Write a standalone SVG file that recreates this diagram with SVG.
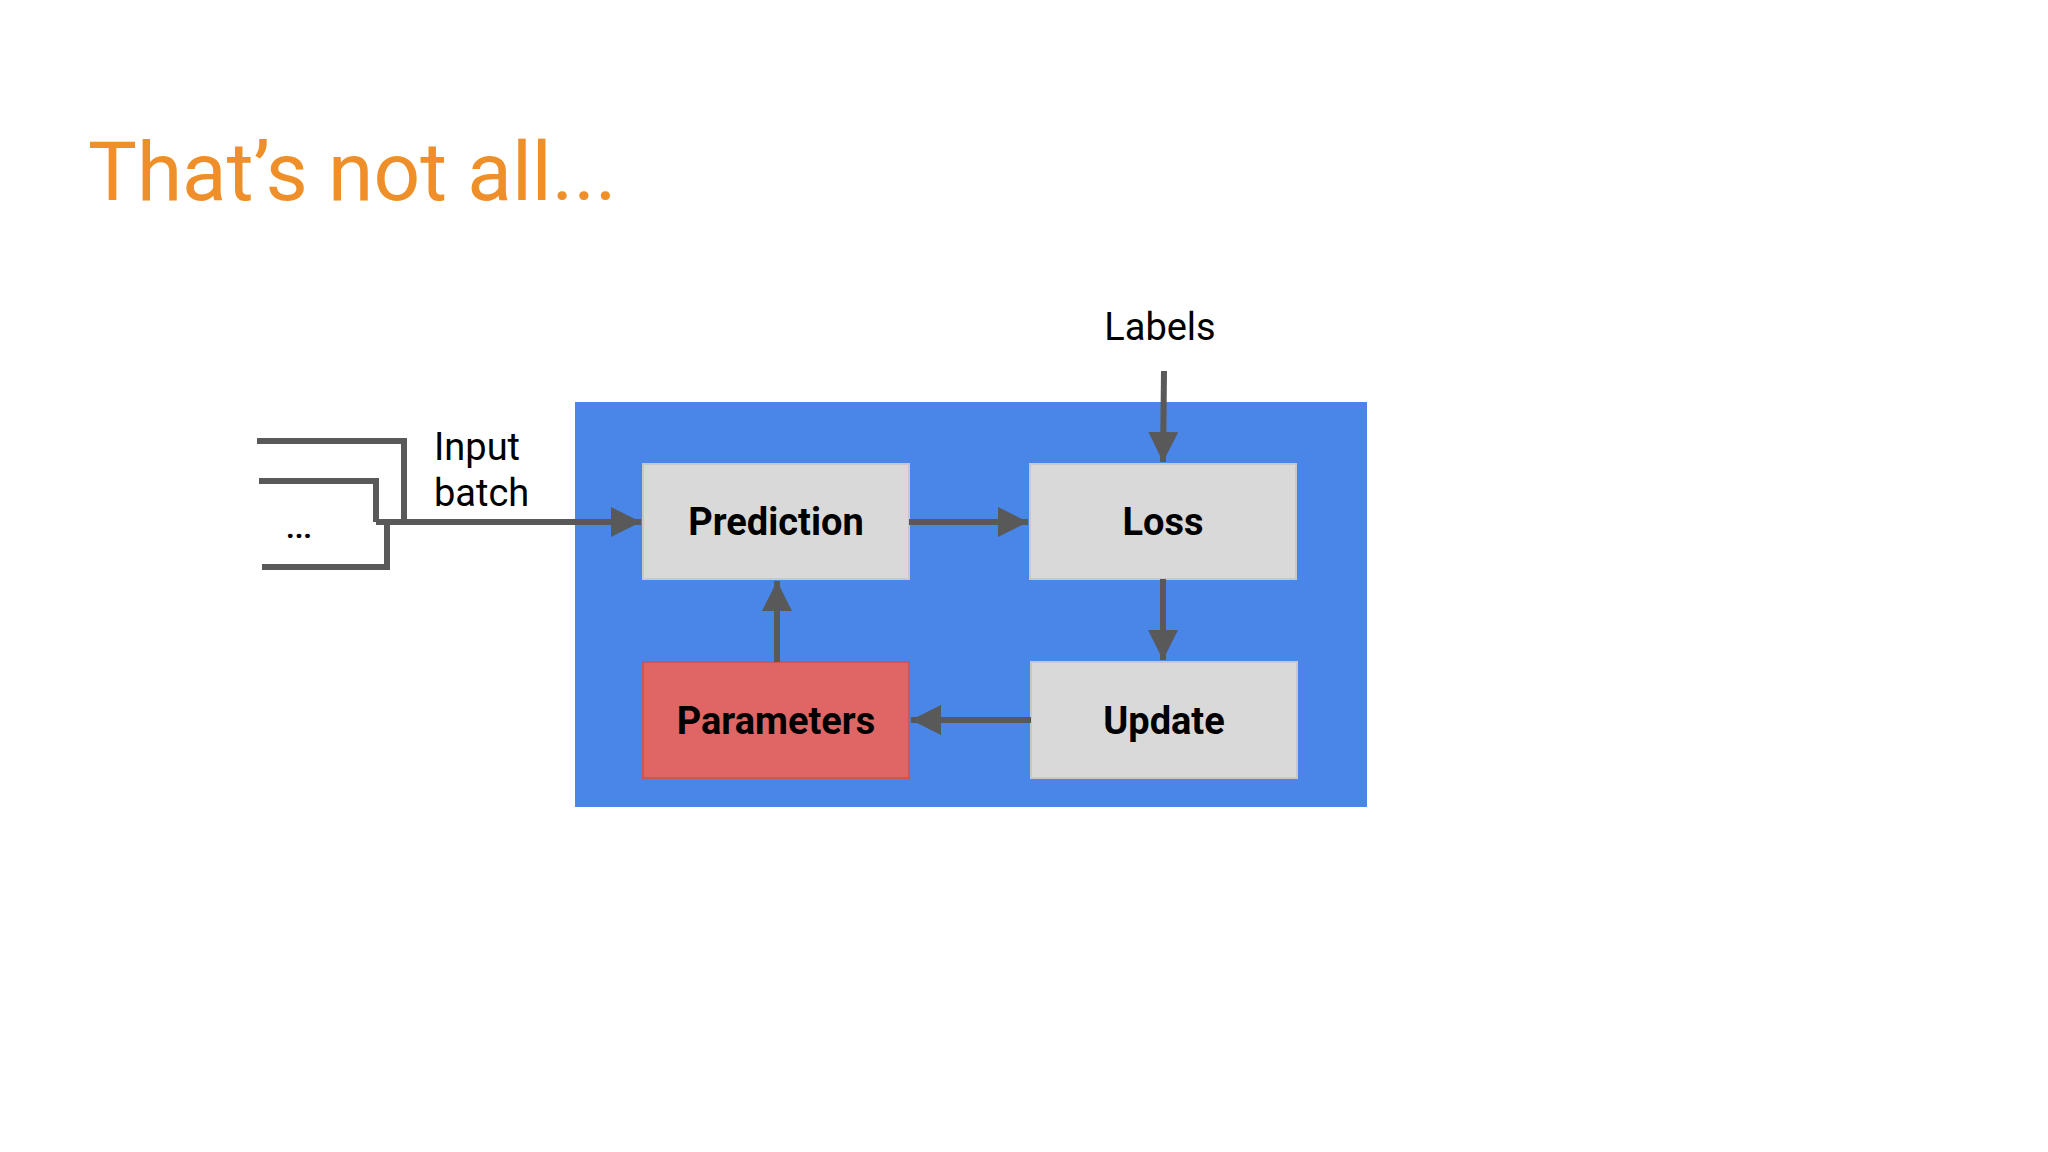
<svg xmlns="http://www.w3.org/2000/svg" width="2048" height="1152" viewBox="0 0 2048 1152">
<style>
.box{fill:#d9d9d9;stroke:#c8c8c8;stroke-width:2}
.lbl{font-family:Roboto,"Liberation Sans",sans-serif;font-weight:bold;font-size:38px;text-anchor:middle;fill:#000}
.t{font-family:Roboto,"Liberation Sans",sans-serif;font-size:38px;fill:#000}
.c{stroke:#595959;stroke-width:6;fill:none}
</style>
<defs><marker id="ah" viewBox="0 0 10 10" refX="10" refY="5" markerWidth="5" markerHeight="5" orient="auto" markerUnits="strokeWidth"><path d="M0,0 L10,5 L0,10 z" fill="#595959"/></marker></defs>
<rect width="2048" height="1152" fill="#fff"/>
<text x="88" y="200" font-family="Roboto,'Liberation Sans',sans-serif" font-size="82" fill="#ef8f2a">That’s not all...</text>
<rect id="container" x="575" y="402" width="792" height="405" fill="#4a86e8"/>
<g id="prediction"><rect class="box" x="643" y="464" width="266" height="115"/><text class="lbl" x="776" y="535">Prediction</text></g>
<g id="loss"><rect class="box" x="1030" y="464" width="266" height="115"/><text class="lbl" x="1163" y="535">Loss</text></g>
<g id="parameters"><rect x="643" y="662" width="266" height="116" fill="#e06666" stroke="#cc5555" stroke-width="2"/><text class="lbl" x="776" y="734">Parameters</text></g>
<g id="update"><rect class="box" x="1031" y="662" width="266" height="116"/><text class="lbl" x="1164" y="734">Update</text></g>
<g id="labels-text"><text class="t" x="1160" y="340" text-anchor="middle">Labels</text></g>
<g id="input"><text class="t" x="434" y="460">Input</text><text class="t" x="434" y="506">batch</text><text x="299" y="538" font-family="Roboto,'Liberation Sans',sans-serif" font-weight="bold" font-size="30" text-anchor="middle">...</text></g>
<g id="connectors">
<polyline class="c" points="257,441 404,441 404,522"/>
<polyline class="c" points="259,481 376,481 376,522"/>
<polyline class="c" points="262,567 387,567 387,522"/>
<line class="c" x1="376" y1="522" x2="641" y2="522" marker-end="url(#ah)"/>
<line class="c" x1="909" y1="522" x2="1028" y2="522" marker-end="url(#ah)"/>
<line class="c" x1="1164" y1="371" x2="1163" y2="462" marker-end="url(#ah)"/>
<line class="c" x1="1163" y1="579" x2="1163" y2="660" marker-end="url(#ah)"/>
<line class="c" x1="1031" y1="720" x2="911" y2="720" marker-end="url(#ah)"/>
<line class="c" x1="777" y1="662" x2="777" y2="581" marker-end="url(#ah)"/>
</g>
</svg>
